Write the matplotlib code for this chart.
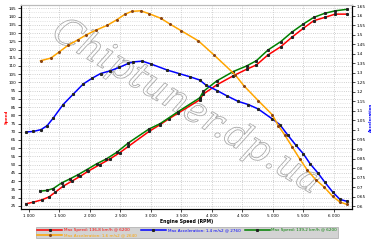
import numpy as np
import matplotlib
matplotlib.use("Agg")
import matplotlib.pyplot as plt
import matplotlib.patheffects as pe
from matplotlib.ticker import MultipleLocator, FuncFormatter

# Speed (left axis) - red
red_rpm = [950, 1070, 1210, 1330, 1430, 1560, 1700, 1840, 1970, 2160, 2330, 2490, 2630,
           2970, 3150, 3300, 3450, 3800, 3860, 4080, 4350, 4570, 4730, 4920, 5130, 5310,
           5500, 5670, 5850, 6020, 6210]
red_val = [26.2, 27.2, 28.6, 30.4, 33.2, 36.9, 39.9, 42.9, 46.0, 50.0, 53.5, 57.3, 61.1,
           70.2, 74.3, 78.0, 81.4, 89.4, 92.9, 98.5, 104.0, 108.0, 110.6, 116.7, 121.7, 127.4,
           132.9, 137.5, 139.5, 141.5, 141.5]

# Speed (left axis) - green
green_rpm = [1180, 1290, 1400, 1535, 1670, 1810, 1950, 2110, 2270, 2440, 2630,
             2970, 3150, 3450, 3800, 3860, 4080, 4350, 4570, 4730, 4920, 5130, 5310,
             5500, 5670, 5850, 6020, 6210]
green_val = [33.9, 34.3, 35.5, 38.9, 41.3, 44.0, 47.0, 50.5, 53.5, 57.5, 63.2,
             71.7, 74.9, 82.3, 90.6, 94.5, 100.9, 106.6, 110.0, 113.2, 119.7, 124.8, 130.5,
             135.5, 139.5, 142.0, 143.5, 144.4]

# Acceleration (right axis) - blue
blue_rpm = [960, 1070, 1200, 1300, 1400, 1560, 1730, 1890, 2040, 2175, 2330, 2480, 2630,
            2710, 2860, 3010, 3270, 3460, 3640, 3800, 3900, 4090, 4240, 4430, 4600, 4760,
            4990, 5115, 5250, 5380, 5500, 5610, 5740, 5850, 5980, 6100, 6210]
blue_val = [0.990, 0.992, 1.002, 1.023, 1.063, 1.133, 1.189, 1.241, 1.272, 1.296, 1.310, 1.328, 1.349,
            1.357, 1.361, 1.345, 1.314, 1.296, 1.279, 1.262, 1.236, 1.206, 1.180, 1.150, 1.133, 1.110,
            1.058, 1.028, 0.971, 0.919, 0.875, 0.823, 0.774, 0.727, 0.675, 0.636, 0.626]

# Acceleration (right axis) - orange
orange_rpm = [1190, 1360, 1500, 1645, 1810, 1935, 2095, 2285, 2440, 2575, 2685, 2830, 2970,
              3160, 3320, 3500, 3780, 4040, 4380, 4525, 4760, 4990, 5090, 5200, 5320, 5440,
              5560, 5700, 5840, 5980, 6100, 6210]
orange_val = [1.363, 1.377, 1.410, 1.445, 1.474, 1.498, 1.523, 1.549, 1.578, 1.607, 1.622, 1.625, 1.610,
              1.586, 1.554, 1.520, 1.467, 1.392, 1.290, 1.232, 1.154, 1.080, 1.023, 0.971, 0.910, 0.849,
              0.792, 0.740, 0.701, 0.652, 0.622, 0.610]

legend_labels = ["Max Speed: 136,8 km/h @ 6200",
                 "Max Acceleration: 1,6 m/s2 @ 2640",
                 "Max Acceleration: 1,4 m/s2 @ 2760",
                 "Max Speed: 139,2 km/h @ 6200"]

fs = 3
fig = plt.figure(figsize=(3.75, 2.42), dpi=100)
fig.patch.set_facecolor("white")
ax = fig.add_axes([0.056, 0.136, 0.883, 0.843])
ax2 = ax.twinx()

ax.set_xlim(870, 6300)
ax.set_ylim(23, 147)
ax2.set_ylim(0.585, 1.655)

ax.xaxis.set_major_locator(MultipleLocator(500))
ax.yaxis.set_major_locator(MultipleLocator(5))
ax.yaxis.set_minor_locator(MultipleLocator(2.5))
ax2.yaxis.set_major_locator(MultipleLocator(0.05))
ax.xaxis.set_major_formatter(FuncFormatter(lambda v, p: "{:,}".format(int(v)).replace(",", " ")))
ax2.yaxis.set_major_formatter(FuncFormatter(lambda v, p: "{:g}".format(round(v, 2))))

ax.grid(True, which="major", color="#c0c0c0", linestyle=":", linewidth=0.6)
ax.grid(True, which="minor", axis="y", color="#d0d0d0", linestyle=":", linewidth=0.5)
ax.tick_params(labelsize=fs, length=2, width=0.5, pad=1.5)
ax.tick_params(which="minor", length=0)
ax2.tick_params(labelsize=fs, length=2, width=0.5, pad=1.5)
for a in (ax, ax2):
    for s in a.spines.values():
        s.set_linewidth(0.8)
    a.spines["top"].set_color("#bbbbbb")

# watermark
ax.text(0.5, 0.5, "Chiptuner.dp.ua", transform=ax.transAxes, fontsize=27,
        family="DejaVu Serif", style="italic", rotation=-31, ha="center", va="center",
        color="none", zorder=0,
        path_effects=[pe.Stroke(linewidth=0.6, foreground="#a8a8a8")])

lw = 1.1
ms = 1.2
l_red, = ax.plot(red_rpm, red_val, color="#ff0000", lw=lw, marker="s", ms=ms,
                 mfc="#222222", mec="#222222", zorder=3)
l_green, = ax.plot(green_rpm, green_val, color="#008000", lw=lw, marker="s", ms=ms,
                   mfc="#222222", mec="#222222", zorder=3)
l_blue, = ax2.plot(blue_rpm, blue_val, color="#0000ff", lw=lw, marker="s", ms=ms,
                   mfc="#222222", mec="#222222", zorder=3)
l_orange, = ax2.plot(orange_rpm, orange_val, color="#ffa500", lw=lw, marker="o", ms=ms,
                     mfc="#8b4513", mec="#8b4513", zorder=3)

ax.set_ylabel("Speed", color="#ff0000", fontsize=fs, fontweight="bold")
ax.yaxis.set_label_coords(-0.038, 0.45)
ax2.set_ylabel("Acceleration", color="#0000ff", fontsize=fs, fontweight="bold")
ax2.yaxis.set_label_coords(1.05, 0.45)
ax.set_xlabel("Engine Speed (RPM)", fontsize=fs + 0.3, fontweight="bold", labelpad=1)

handles = [l_red, l_orange, l_blue, l_green]
leg = fig.legend(handles, legend_labels, loc="center", bbox_to_anchor=(0.499, 0.039),
                 ncol=3, fontsize=fs, frameon=True, facecolor="#c8c8c8", edgecolor="#999999",
                 fancybox=False, handlelength=6, columnspacing=1.0, handletextpad=0.4,
                 borderpad=0.3, labelspacing=0.2)
leg.get_frame().set_linewidth(0.5)
for txt, h in zip(leg.get_texts(), handles):
    txt.set_color(h.get_color())

fig.savefig("out.png", dpi=100)
